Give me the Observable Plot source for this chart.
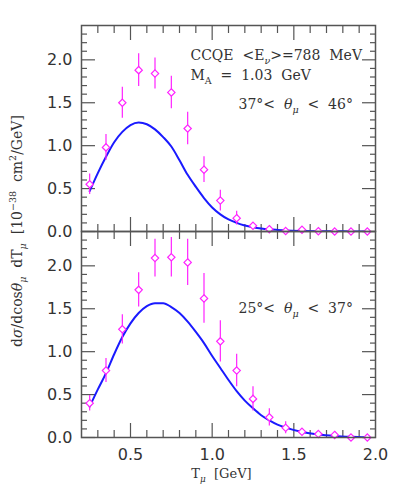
<!DOCTYPE html>
<html><head><meta charset="utf-8">
<script src="https://cdn.jsdelivr.net/npm/d3@7"></script>
<script src="https://cdn.jsdelivr.net/npm/@observablehq/plot@0.6"></script>
<style>body{margin:0;background:#fff}</style>
</head><body><div id="chart"></div>
<script>
// ---- data ----
const panels = ["37-46", "25-37"];
const T = [0.25,0.35,0.45,0.55,0.65,0.75,0.85,0.95,1.05,1.15,1.25,1.35,1.45,1.55,1.65,1.75,1.85,1.95];
const topXS  = [0.55,0.98,1.50,1.88,1.84,1.62,1.20,0.72,0.36,0.155,0.066,0.027,0.005,0.02,0.004,0,0,0];
const topErr = [0.12,0.15,0.18,0.19,0.18,0.19,0.19,0.15,0.12,0.08,0.04,0.02,0.01,0.01,0.005,0,0,0];
const botXS  = [0.40,0.78,1.26,1.72,2.09,2.10,2.04,1.62,1.12,0.78,0.45,0.235,0.113,0.066,0.04,0.03,0,0];
const botErr = [0.09,0.14,0.17,0.20,0.22,0.23,0.27,0.29,0.24,0.19,0.14,0.10,0.07,0.04,0.03,0.02,0,0];
const curveT   = [0.25,0.30,0.35,0.40,0.45,0.50,0.55,0.60,0.65,0.70,0.75,0.80,0.85,0.90,0.95,1.00,1.05,1.10,1.15,1.20,1.25,1.30,1.35,1.40,1.45,1.55,1.65,1.75,1.85,1.95];
const curveTop = [0.47,0.68,0.87,1.04,1.16,1.24,1.27,1.25,1.19,1.10,0.99,0.83,0.66,0.52,0.39,0.28,0.20,0.14,0.10,0.07,0.05,0.035,0.025,0.018,0.012,0.006,0.003,0.002,0.001,0.0];
const curveBot = [0.36,0.56,0.75,0.97,1.17,1.33,1.45,1.53,1.565,1.565,1.52,1.45,1.35,1.23,1.10,0.95,0.81,0.67,0.54,0.43,0.34,0.26,0.20,0.15,0.115,0.065,0.035,0.018,0.008,0.002];
const yMajor = [0, 0.5, 1.0, 1.5, 2.0];
const yMinor = [0.1,0.2,0.3,0.4,0.6,0.7,0.8,0.9,1.1,1.2,1.3,1.4,1.6,1.7,1.8,1.9,2.1,2.2,2.3];
const xMajor = [0.5, 1.0, 1.5];
const xLabels = [0.5, 1.0, 1.5, 2.0];
const xMinor = [0.3,0.4,0.6,0.7,0.8,0.9,1.1,1.2,1.3,1.4,1.6,1.7,1.8,1.9];

// ---- tables ----
const points = [
  ...T.map((t, i) => ({panel: panels[0], t, v: topXS[i], e: topErr[i]})),
  ...T.map((t, i) => ({panel: panels[1], t, v: botXS[i], e: botErr[i]}))
];
const curves = [
  ...curveT.map((t, i) => ({panel: panels[0], t, v: curveTop[i]})),
  ...curveT.map((t, i) => ({panel: panels[1], t, v: curveBot[i]}))
];

const W = 395, H = 499, mL = 81, mR = 20, mT = 25, mB = 62;
const frameColor = "#555";
const magenta = "#ff22ff";
const blue = "#1a1aff";

const tickAx = (opts) => ({tickFormat: () => "", label: null, facetAnchor: null, stroke: frameColor, strokeWidth: 1.2, ...opts});

const plot = Plot.plot({
  width: W, height: H,
  marginLeft: mL, marginRight: mR, marginTop: mT, marginBottom: mB,
  style: {fontFamily: "'DejaVu Sans', sans-serif", fontSize: "16px", color: "#333", background: "#fff"},
  x: {domain: [0.2, 2.0]},
  y: {domain: [0, 2.4]},
  fy: {domain: panels, padding: 0, axis: null},
  marks: [
    // minor / major ticks inward on all four sides
    Plot.axisY(tickAx({anchor: "left", ticks: yMinor, tickSize: -6})),
    Plot.axisY(tickAx({anchor: "left", ticks: yMajor, tickSize: -14})),
    Plot.axisY(tickAx({anchor: "right", ticks: yMinor, tickSize: -6})),
    Plot.axisY(tickAx({anchor: "right", ticks: yMajor, tickSize: -14})),
    Plot.axisX(tickAx({anchor: "bottom", ticks: xMinor, tickSize: -7})),
    Plot.axisX(tickAx({anchor: "bottom", ticks: xMajor, tickSize: -14})),
    Plot.axisX(tickAx({anchor: "top", ticks: xMinor, tickSize: -7})),
    Plot.axisX(tickAx({anchor: "top", ticks: xMajor, tickSize: -14})),
    // labels
    Plot.axisY({anchor: "left", ticks: yMajor, tickSize: 0, tickPadding: 9, tickFormat: d3.format(".1f"), label: null, facetAnchor: null}),
    Plot.axisX({anchor: "bottom", ticks: xLabels, tickSize: 0, tickPadding: 11, tickFormat: d3.format(".1f"), label: null}),
    // data
    Plot.line(curves, {x: "t", y: "v", fy: "panel", stroke: blue, strokeWidth: 2, curve: "monotone-x", clip: true}),
    Plot.ruleX(points, {x: "t", y1: d => d.v - d.e, y2: d => d.v + d.e, fy: "panel", stroke: magenta, strokeWidth: 1.2, clip: true}),
    Plot.dot(points, {x: "t", y: "v", fy: "panel", symbol: "diamond2", r: 3.3, stroke: magenta, fill: "white", strokeWidth: 1.2}),
    Plot.frame({stroke: frameColor, strokeWidth: 1.5})
  ]
});

document.getElementById("chart").appendChild(plot);

// ---- rich text (subscripts / superscripts) ----
const svg = d3.select(plot);
const xs = plot.scale("x");
const fh = (H - mT - mB) / 2;
const py = (panelIdx, v) => mT + panelIdx * fh + (1 - v / 2.4) * fh;
const serif = "'DejaVu Serif', serif";

function rich(x, y, parts, {anchor = "start", size = 14, rotate = 0} = {}) {
  const t = svg.append("text")
    .attr("x", x).attr("y", y)
    .attr("text-anchor", anchor)
    .attr("font-family", serif)
    .attr("font-size", size)
    .attr("fill", "#333");
  if (rotate) t.attr("transform", `rotate(${rotate},${x},${y})`);
  let shift = 0;
  for (const p of parts) {
    const [txt, kind, italic] = Array.isArray(p) ? p : [p, null, false];
    const target = kind === "sub" ? 4 : kind === "sup" ? -6 : 0;
    const s = t.append("tspan").text(txt)
      .attr("dy", target - shift)
      .attr("font-size", kind ? size * 0.68 : size);
    if (italic) s.attr("font-style", "italic");
    shift = target;
  }
  return t;
}

rich(xs.apply(0.87), py(0, 1.99), ["CCQE  <E", ["ν", "sub", true], [">=788  MeV"]], {size: 14});
rich(xs.apply(0.87), py(0, 1.76), ["M", ["A", "sub"], ["  =  1.03  GeV"]], {size: 14});
rich(xs.apply(1.865), py(0, 1.42), ["37°<  ", ["θ", null, true], ["μ", "sub", true], ["  <  46°"]], {anchor: "end", size: 14});
rich(xs.apply(1.865), py(1, 1.445), ["25°<  ", ["θ", null, true], ["μ", "sub", true], ["  <  37°"]], {anchor: "end", size: 14});
rich(xs.apply(1.06), H - 21, ["T", ["μ", "sub", true], ["  [GeV]"]], {anchor: "middle", size: 13});
rich(22, mT + fh, ["d", ["σ", null, true], ["/dcos"], ["θ", null, true], ["μ", "sub", true], ["  dT"], ["μ", "sub", true], ["  [10"], ["−38", "sup"], ["  cm"], ["2", "sup"], ["/GeV]"]], {anchor: "middle", size: 14, rotate: -90});
</script>
</body></html>
